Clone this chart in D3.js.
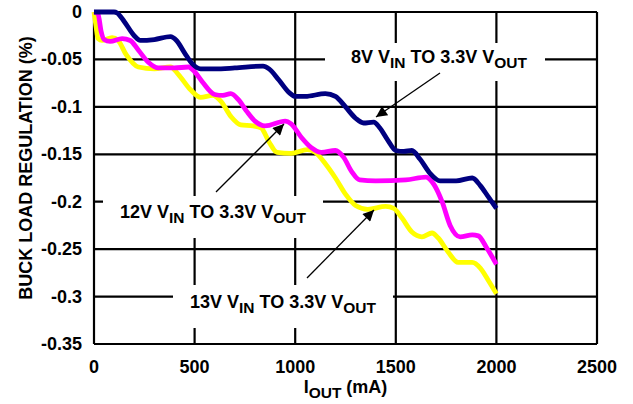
<!DOCTYPE html>
<html lang="en">
<head>
<meta charset="UTF-8">
<title>Buck Load Regulation</title>
<script src="https://d3js.org/d3.v7.min.js"></script>
<style>
  body { margin: 0; background: #fff; }
  svg { display: block; }
  text { font-family: "Liberation Sans", Arial, sans-serif; font-weight: bold; fill: #000; }
</style>
</head>
<body>
<svg id="chart" width="633" height="404"></svg>
<script>
// data (IOUT in mA, regulation in %)
const xTicks = [0, 500, 1000, 1500, 2000, 2500];
const xTickLabels = ["0", "500", "1000", "1500", "2000", "2500"];
const yTicks = [0, -0.05, -0.1, -0.15, -0.2, -0.25, -0.3, -0.35];
const yTickLabels = ["0", "-0.05", "-0.1", "-0.15", "-0.2", "-0.25", "-0.3", "-0.35"];

const iout8V = [0, 100, 115, 150, 200, 230, 300, 380, 410, 450, 490, 530, 600, 700, 840, 870, 920, 970, 1000, 1050, 1150, 1200, 1250, 1300, 1340, 1390, 1420, 1460, 1500, 1540, 1580, 1620, 1670, 1720, 1800, 1880, 1920, 1960, 2000];
const reg8V  = [0, 0, -0.001, -0.01, -0.025, -0.030, -0.029, -0.026, -0.030, -0.043, -0.055, -0.060, -0.060, -0.059, -0.057, -0.060, -0.072, -0.085, -0.089, -0.089, -0.086, -0.089, -0.100, -0.112, -0.117, -0.116, -0.122, -0.135, -0.146, -0.147, -0.146, -0.155, -0.170, -0.178, -0.178, -0.175, -0.183, -0.195, -0.207];

const iout12V = [0, 20, 35, 50, 80, 140, 180, 220, 270, 320, 400, 470, 500, 540, 600, 640, 680, 720, 760, 800, 850, 950, 980, 1030, 1080, 1130, 1200, 1240, 1280, 1320, 1400, 1550, 1650, 1690, 1730, 1770, 1820, 1880, 1910, 1950, 2000];
const reg12V  = [0, -0.002, -0.020, -0.029, -0.031, -0.028, -0.030, -0.040, -0.053, -0.059, -0.059, -0.058, -0.063, -0.074, -0.087, -0.088, -0.086, -0.093, -0.105, -0.115, -0.120, -0.115, -0.118, -0.132, -0.143, -0.148, -0.146, -0.153, -0.168, -0.177, -0.178, -0.177, -0.174, -0.182, -0.200, -0.225, -0.237, -0.235, -0.236, -0.248, -0.266];

const iout13V = [0, 10, 20, 40, 90, 120, 160, 220, 300, 380, 420, 480, 530, 590, 630, 680, 730, 790, 830, 870, 910, 980, 1060, 1100, 1150, 1200, 1250, 1300, 1360, 1450, 1490, 1530, 1580, 1630, 1680, 1710, 1760, 1810, 1880, 1920, 1960, 2000];
const reg13V  = [0, -0.015, -0.028, -0.030, -0.027, -0.030, -0.045, -0.058, -0.060, -0.058, -0.066, -0.082, -0.090, -0.088, -0.094, -0.110, -0.119, -0.120, -0.122, -0.137, -0.148, -0.149, -0.145, -0.148, -0.160, -0.175, -0.192, -0.204, -0.208, -0.205, -0.207, -0.217, -0.232, -0.237, -0.233, -0.238, -0.253, -0.264, -0.264, -0.270, -0.283, -0.297];

const svg = d3.select("#chart");
const margin = { left: 94, top: 12, right: 36, bottom: 60 };
const width = 633 - margin.left - margin.right;
const height = 404 - margin.top - margin.bottom;

const x = d3.scaleLinear().domain([0, 2500]).range([0, width]);
const y = d3.scaleLinear().domain([-0.35, 0]).range([height, 0]);

const g = svg.append("g").attr("transform", `translate(${margin.left},${margin.top})`);

// grid + frame
g.selectAll("line.vgrid").data(xTicks).join("line")
  .attr("class", "vgrid")
  .attr("x1", d => x(d)).attr("x2", d => x(d))
  .attr("y1", 0).attr("y2", height)
  .attr("stroke", "#000").attr("stroke-width", 2.2);
g.selectAll("line.hgrid").data(yTicks).join("line")
  .attr("class", "hgrid")
  .attr("x1", 0).attr("x2", width)
  .attr("y1", d => y(d)).attr("y2", d => y(d))
  .attr("stroke", "#000").attr("stroke-width", 2.2);

// tick labels
g.selectAll("text.xt").data(xTicks).join("text")
  .attr("class", "xt")
  .attr("x", d => x(d)).attr("y", height + 29)
  .attr("text-anchor", "middle").attr("font-size", 18)
  .text((d, i) => xTickLabels[i]);
g.selectAll("text.yt").data(yTicks).join("text")
  .attr("class", "yt")
  .attr("x", -12).attr("y", d => y(d) + 6)
  .attr("text-anchor", "end").attr("font-size", 18)
  .text((d, i) => yTickLabels[i]);

// axis titles
svg.append("text")
  .attr("transform", "translate(32,168) rotate(-90)")
  .attr("text-anchor", "middle").attr("font-size", 18)
  .text("BUCK LOAD REGULATION (%)");

const xt = svg.append("text")
  .attr("x", margin.left + width / 2).attr("y", 393)
  .attr("text-anchor", "middle").attr("font-size", 18);
xt.append("tspan").text("I");
xt.append("tspan").attr("font-size", 15.5).attr("dy", 5).text("OUT");
xt.append("tspan").attr("dy", -5).text(" (mA)");

// curve labels with white boxes that break the grid
const labels = [
  { pre: "8V", box: [325, 43, 220, 38], tx: 439, ty: 63 },
  { pre: "12V", box: [103, 196, 220, 42], tx: 213, ty: 218 },
  { pre: "13V", box: [173, 285, 220, 43], tx: 283, ty: 308 }
];
labels.forEach(l => {
  svg.append("rect")
    .attr("x", l.box[0]).attr("y", l.box[1])
    .attr("width", l.box[2]).attr("height", l.box[3])
    .attr("fill", "#fff");
  const t = svg.append("text")
    .attr("x", l.tx).attr("y", l.ty)
    .attr("text-anchor", "middle").attr("font-size", 18);
  t.append("tspan").text(l.pre + " V");
  t.append("tspan").attr("font-size", 15.5).attr("dy", 5).text("IN");
  t.append("tspan").attr("dy", -5).text(" TO 3.3V V");
  t.append("tspan").attr("font-size", 15.5).attr("dy", 5).text("OUT");
});

// curves
const series = [
  { xs: iout8V, ys: reg8V, color: "#000080" },
  { xs: iout12V, ys: reg12V, color: "#ff00ff" },
  { xs: iout13V, ys: reg13V, color: "#ffff00" }
];
const line = d3.line()
  .x(d => x(d[0])).y(d => y(d[1]))
  .curve(d3.curveMonotoneX);
series.slice().reverse().forEach(s => {
  g.append("path")
    .datum(s.xs.map((v, i) => [v, s.ys[i]]))
    .attr("d", line)
    .attr("fill", "none")
    .attr("stroke", s.color)
    .attr("stroke-width", 4.8)
    .attr("stroke-linejoin", "round");
});

// arrows
const defs = svg.append("defs");
defs.append("marker")
  .attr("id", "head")
  .attr("viewBox", "0 0 10 10")
  .attr("refX", 10).attr("refY", 5)
  .attr("markerWidth", 15).attr("markerHeight", 11)
  .attr("markerUnits", "userSpaceOnUse")
  .attr("orient", "auto")
  .append("path").attr("d", "M0,0L10,5L0,10Z").attr("fill", "#000");

const arrows = [
  [440, 73, 376, 117],
  [216, 192, 284, 124],
  [307, 278, 374, 210]
];
svg.selectAll("line.arrow").data(arrows).join("line")
  .attr("class", "arrow")
  .attr("x1", d => d[0]).attr("y1", d => d[1])
  .attr("x2", d => d[2]).attr("y2", d => d[3])
  .attr("stroke", "#000").attr("stroke-width", 1.3)
  .attr("marker-end", "url(#head)");
</script>
</body>
</html>
